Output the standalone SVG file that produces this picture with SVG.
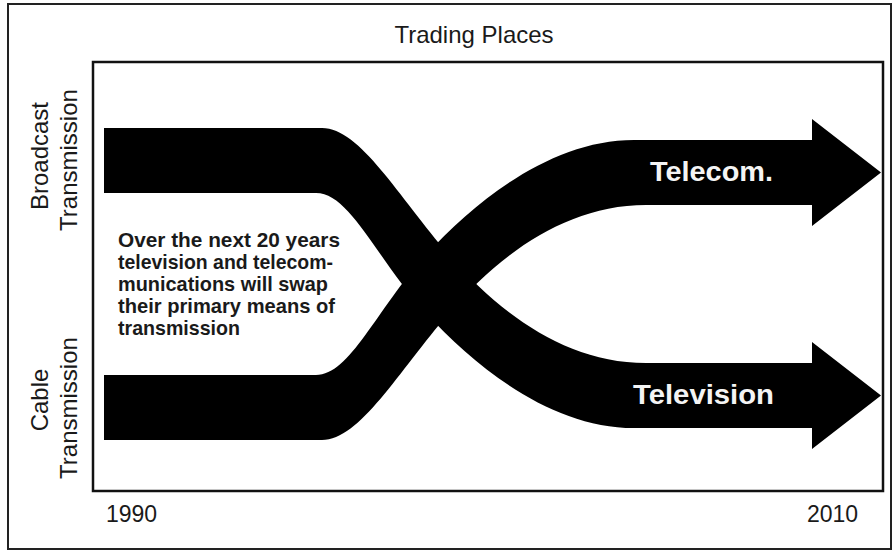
<svg xmlns="http://www.w3.org/2000/svg" width="892" height="552" viewBox="0 0 892 552">
  <style>
    .t { font-family: "Liberation Sans", Arial, Helvetica, sans-serif; fill: #1a1a1a; }
    .lab { font-size: 24px; text-anchor: middle; }
    .yr { font-size: 23px; }
    .body { font-size: 21px; font-weight: bold; }
    .onband { font-family: "Liberation Sans", Arial, Helvetica, sans-serif; font-size: 28px; font-weight: bold; fill: #f4f4f4; }
    .band { fill: #000; }
  </style>
  <rect x="0" y="0" width="892" height="552" fill="#fff"/>
  <g id="frame">
    <rect x="8" y="4" width="883" height="545" fill="none" stroke="#222" stroke-width="2"/>
    <rect x="93" y="62" width="790" height="429" fill="none" stroke="#111" stroke-width="2.5"/>
  </g>
  <g id="title">
    <text class="t" x="474" y="43" font-size="24" text-anchor="middle">Trading Places</text>
  </g>
  <g id="axis-broadcast">
    <text class="t lab" transform="translate(48,156) rotate(-90)">Broadcast</text>
    <text class="t lab" transform="translate(77,160) rotate(-90)">Transmission</text>
  </g>
  <g id="axis-cable">
    <text class="t lab" transform="translate(48,400) rotate(-90)">Cable</text>
    <text class="t lab" transform="translate(77,408) rotate(-90)">Transmission</text>
  </g>
  <g id="years">
    <text class="t yr" x="106" y="522">1990</text>
    <text class="t yr" x="807" y="522">2010</text>
  </g>
  <g id="note">
    <text class="t body" x="118" y="247" textLength="222" lengthAdjust="spacingAndGlyphs">Over the next 20 years</text>
    <text class="t body" x="118" y="269" textLength="215" lengthAdjust="spacingAndGlyphs">television and telecom-</text>
    <text class="t body" x="118" y="291" textLength="210" lengthAdjust="spacingAndGlyphs">munications will swap</text>
    <text class="t body" x="118" y="313" textLength="217" lengthAdjust="spacingAndGlyphs">their primary means of</text>
    <text class="t body" x="118" y="335" textLength="122" lengthAdjust="spacingAndGlyphs">transmission</text>
  </g>
  <g id="connectors">
    <path id="broadcast-to-television" class="band" d="M104,128 H322 C360,128 398,196 449,255 C499,313 566,363 646,363 H812 V342 L881,395.5 L812,449 V428 H634 C554,428 479,371 425,312 C376,258 350,193 316,193 H104 Z"/>
    <path id="cable-to-telecom" class="band" d="M104,440 H322 C360,440 398,372 449,313 C499,255 566,205 646,205 H812 V226 L881,172.5 L812,119 V140 H634 C554,140 479,197 425,256 C376,310 350,375 316,375 H104 Z"/>
  </g>
  <g id="telecom">
    <text class="onband" x="650" y="181" textLength="123" lengthAdjust="spacingAndGlyphs">Telecom.</text>
  </g>
  <g id="television">
    <text class="onband" x="633" y="404" textLength="141" lengthAdjust="spacingAndGlyphs">Television</text>
  </g>
</svg>
